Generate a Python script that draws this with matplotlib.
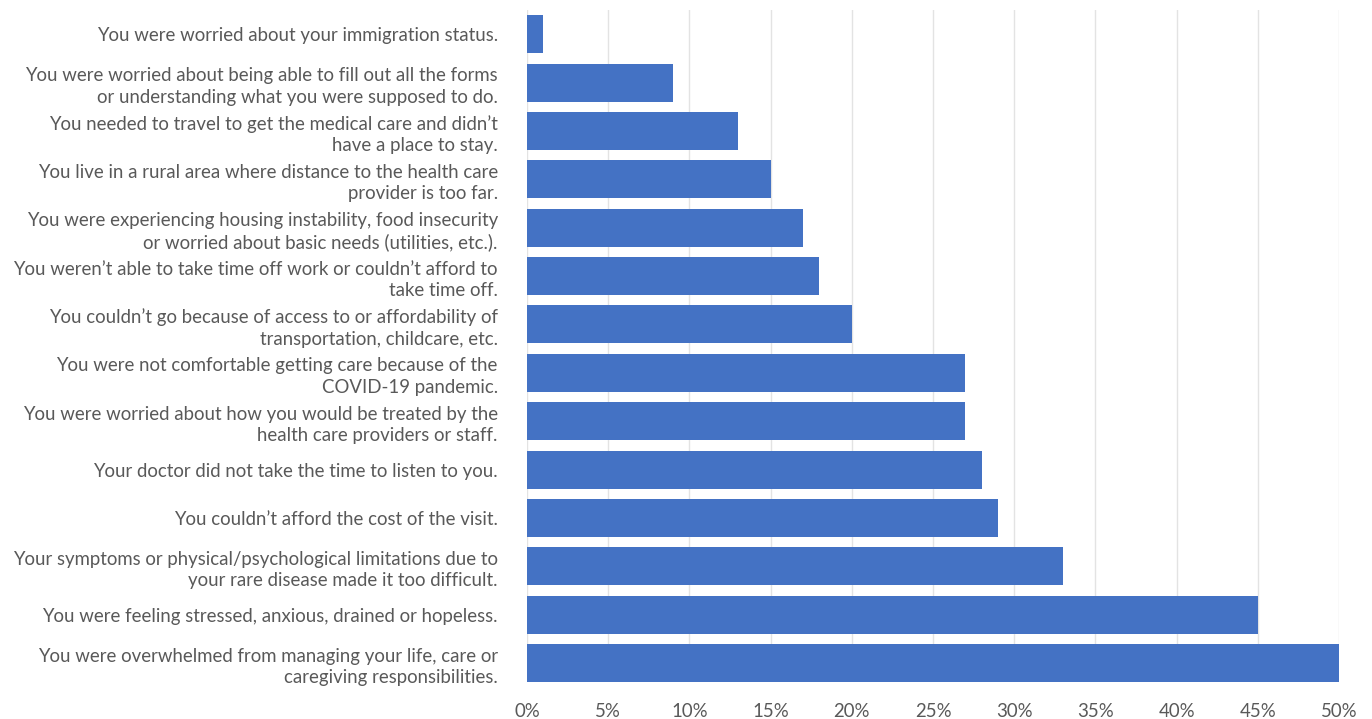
import matplotlib
matplotlib.use("Agg")
import matplotlib.pyplot as plt
from matplotlib.ticker import FuncFormatter

categories = [
    "You were worried about your immigration status.",
    "You were worried about being able to fill out all the forms\nor understanding what you were supposed to do.",
    "You needed to travel to get the medical care and didn\u2019t\nhave a place to stay.",
    "You live in a rural area where distance to the health care\nprovider is too far.",
    "You were experiencing housing instability, food insecurity\nor worried about basic needs (utilities, etc.).",
    "You weren\u2019t able to take time off work or couldn\u2019t afford to\ntake time off.",
    "You couldn\u2019t go because of access to or affordability of\ntransportation, childcare, etc.",
    "You were not comfortable getting care because of the\nCOVID-19 pandemic.",
    "You were worried about how you would be treated by the\nhealth care providers or staff.",
    "Your doctor did not take the time to listen to you.",
    "You couldn\u2019t afford the cost of the visit.",
    "Your symptoms or physical/psychological limitations due to\nyour rare disease made it too difficult.",
    "You were feeling stressed, anxious, drained or hopeless.",
    "You were overwhelmed from managing your life, care or\ncaregiving responsibilities.",
]
values = [1, 9, 13, 15, 17, 18, 20, 27, 27, 28, 29, 33, 45, 50]
xticks = [0, 5, 10, 15, 20, 25, 30, 35, 40, 45, 50]

plt.rcParams['font.family'] = ['Lato', 'DejaVu Sans']
text_color = "#595959"

fig = plt.figure(figsize=(13.72, 7.19), dpi=100)
ax = fig.add_axes([527/1372, 1 - 682/719, (1339-527)/1372, (682-10)/719])

pos = list(range(len(categories)))
ax.barh(pos, values, height=0.785, color="#4472C4", zorder=3)
ax.set_ylim(len(categories) - 1 + 0.39, -0.5)
ax.set_xlim(0, 50)
ax.set_xticks(xticks)
ax.xaxis.set_major_formatter(FuncFormatter(lambda v, p: f"{int(v)}%"))
ax.set_yticks(pos)
ax.set_yticklabels(categories, linespacing=1.32)
ax.tick_params(axis='y', length=0, pad=21, labelsize=13.4, labelcolor=text_color)
ax.tick_params(axis='x', length=0, pad=15, labelsize=13.4, labelcolor=text_color)
for lbl in ax.get_yticklabels():
    lbl.set_horizontalalignment('right')
ax.grid(axis='x', color="#e3e3e3", linewidth=1, zorder=0)
for s in ax.spines.values():
    s.set_visible(False)

fig.savefig("out.png", dpi=100)
